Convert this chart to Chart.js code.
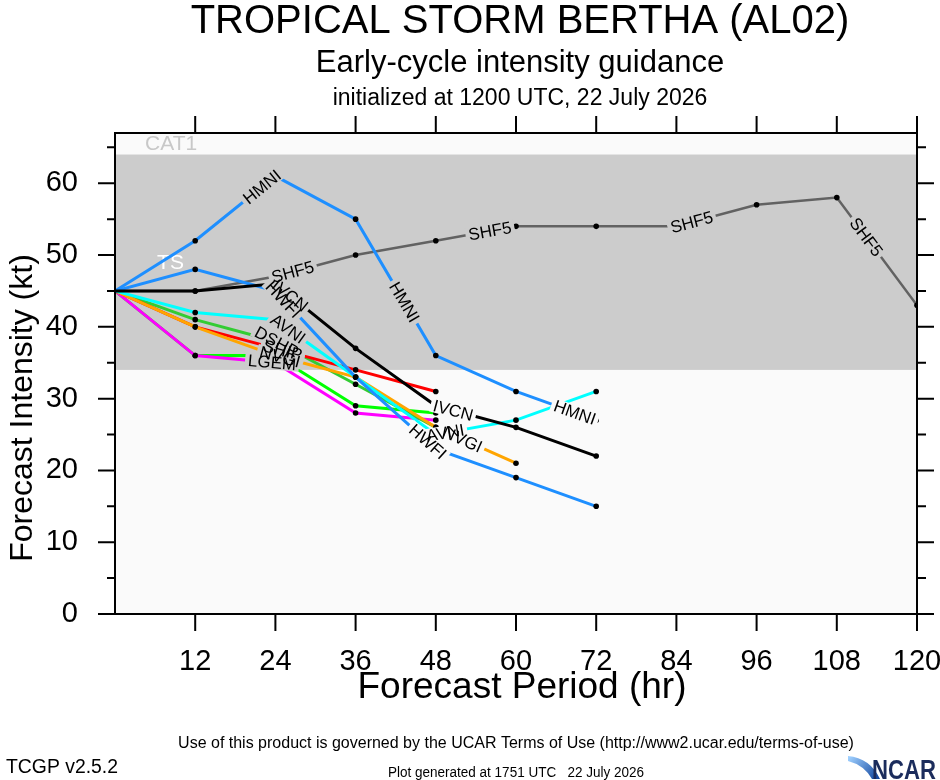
<!DOCTYPE html>
<html>
<head>
<meta charset="utf-8">
<title>Tropical Storm Bertha (AL02) early-cycle intensity guidance</title>
<script src="https://cdn.jsdelivr.net/npm/chart.js@4.4.1/dist/chart.umd.min.js"></script>
<style>
  html, body { margin: 0; padding: 0; background: #fff; }
  #wrap { width: 940px; height: 780px; position: relative; }
</style>
</head>
<body>
<div id="wrap"><canvas id="chart" width="940" height="780"></canvas></div>
<script>
// forecast hours and intensities (kt)
const hours = [0, 12, 24, 36, 48, 60, 72, 84, 96, 108, 120];
const shf5 = [45, 45, 47, 50, 52, 54, 54, 54, 57, 58, 43];
const hmni = [45, 52, 61, 55, 36, 31, 27];
const hwfi = [45, 48, 45, 33, 23, 19, 15];
const ivcn = [45, 45, 46, 37, 29, 26, 22];
const avni = [45, 42, 41, 33, 25, 27, 31];
const nvgi = [45, 40, 36, 33, 26, 21];
const ship = [45, 40, 37, 34, 31];
const dshp = [45, 41, 38, 32, 26];
const ctci = [45, 36, 36, 29, 28];
const lgem = [45, 36, 35, 28, 27];

const xTicks = [12, 24, 36, 48, 60, 72, 84, 96, 108, 120];
const yTicks = [0, 10, 20, 30, 40, 50, 60];
const yMinor = [5, 15, 25, 35, 45, 55, 65];
const tsBand = [34, 64];

const FONT = "'Liberation Sans', Arial, Helvetica, sans-serif";
Chart.defaults.font.family = FONT;
Chart.defaults.color = '#000';

function series(name, values, color, width, labelAt) {
  return {
    label: name,
    data: values.map((v, i) => ({ x: hours[i], y: v })),
    borderColor: color,
    backgroundColor: color,
    borderWidth: width,
    pointRadius: ctx => ctx.dataIndex === 0 ? 0 : 2.8,
    pointBackgroundColor: '#000',
    pointBorderWidth: 0,
    pointHoverRadius: 0,
    tension: 0,
    labelAt: labelAt
  };
}

// earlier entries are drawn on top
const datasets = [
  series('IVCN', ivcn, '#000000', 3, [26.2, 50.6]),
  series('HWFI', hwfi, '#1e8fff', 3, [25.2, 46.8]),
  series('AVNI', avni, '#00ffff', 3, [25.9, 49.4]),
  series('NVGI', nvgi, '#ffa500', 3, [24.7, 52]),
  series('SHIP', ship, '#ff0000', 3, [25.1]),
  series('DSHP', dshp, '#33cc33', 3, [24.2]),
  series('LGEM', lgem, '#ff00ff', 3, [23.5]),
  series('CTCI', ctci, '#00ff00', 3, []),
  series('HMNI', hmni, '#1e8fff', 3, [22, 43.3, 68.8]),
  series('SHF5', shf5, '#626262', 2.5, [26.6, 56.1, 86.3, 112.4])
];

function bandColor(v) {
  return (v >= tsBand[0] && v <= tsBand[1]) ? '#cccccc' : '#fafafa';
}

const backdrop = {
  id: 'backdrop',
  beforeDatasetsDraw(chart) {
    const { ctx, chartArea: a, scales: { x, y } } = chart;
    ctx.save();
    ctx.fillStyle = '#fafafa';
    ctx.fillRect(a.left, a.top, a.right - a.left, a.bottom - a.top);
    const t = y.getPixelForValue(tsBand[1]);
    const b = y.getPixelForValue(tsBand[0]);
    ctx.fillStyle = '#cccccc';
    ctx.fillRect(a.left, t, a.right - a.left, b - t);
    ctx.font = '21px ' + FONT;
    ctx.textBaseline = 'alphabetic';
    ctx.fillStyle = '#c8c8c8';
    ctx.fillText('CAT1', x.getPixelForValue(4.5), y.getPixelForValue(64.6));
    ctx.fillStyle = '#ffffff';
    ctx.fillText('TS', x.getPixelForValue(6.3), y.getPixelForValue(48.1));
    ctx.restore();
  }
};

const lineLabels = {
  id: 'lineLabels',
  afterDatasetsDraw(chart) {
    const { ctx, scales: { x, y } } = chart;
    const items = [];
    chart.data.datasets.forEach(ds => {
      const pts = ds.data;
      (ds.labelAt || []).forEach(h => {
        let i = 0;
        while (i < pts.length - 2 && pts[i + 1].x < h) i++;
        const p0 = pts[i], p1 = pts[i + 1];
        const f = (h - p0.x) / (p1.x - p0.x);
        const v = p0.y + f * (p1.y - p0.y);
        const x0 = x.getPixelForValue(p0.x), y0 = y.getPixelForValue(p0.y);
        const x1 = x.getPixelForValue(p1.x), y1 = y.getPixelForValue(p1.y);
        items.push({
          text: ds.label,
          px: x.getPixelForValue(h),
          py: y.getPixelForValue(v),
          angle: Math.atan2(y1 - y0, x1 - x0),
          bg: bandColor(v)
        });
      });
    });
    ctx.save();
    ctx.font = '17px ' + FONT;
    ctx.textAlign = 'center';
    ctx.textBaseline = 'middle';
    items.forEach(it => {
      const w = ctx.measureText(it.text).width;
      ctx.save();
      ctx.translate(it.px, it.py);
      ctx.rotate(it.angle);
      ctx.fillStyle = it.bg;
      ctx.fillRect(-w / 2 - 3, -7, w + 6, 14);
      ctx.restore();
    });
    items.forEach(it => {
      ctx.save();
      ctx.translate(it.px, it.py);
      ctx.rotate(it.angle);
      ctx.fillStyle = '#000';
      ctx.fillText(it.text, 0, 1);
      ctx.restore();
    });
    ctx.restore();
  }
};

const frame = {
  id: 'frame',
  afterDraw(chart) {
    const { ctx, chartArea: a, scales: { x, y } } = chart;
    ctx.save();
    ctx.strokeStyle = '#000';
    ctx.lineWidth = 2;
    ctx.strokeRect(a.left, a.top, a.right - a.left, a.bottom - a.top);
    ctx.beginPath();
    xTicks.forEach(h => {
      const px = x.getPixelForValue(h);
      ctx.moveTo(px, a.bottom); ctx.lineTo(px, a.bottom + 17);
      ctx.moveTo(px, a.top); ctx.lineTo(px, a.top - 17);
    });
    yTicks.forEach(v => {
      const py = y.getPixelForValue(v);
      ctx.moveTo(a.left, py); ctx.lineTo(a.left - 17, py);
      ctx.moveTo(a.right, py); ctx.lineTo(a.right + 17, py);
    });
    yMinor.forEach(v => {
      const py = y.getPixelForValue(v);
      ctx.moveTo(a.left, py); ctx.lineTo(a.left - 8, py);
      ctx.moveTo(a.right, py); ctx.lineTo(a.right + 9, py);
    });
    ctx.stroke();

    // titles
    const cx = (a.left + a.right) / 2 + 4;
    ctx.fillStyle = '#000';
    ctx.textAlign = 'center';
    ctx.textBaseline = 'alphabetic';
    ctx.font = '40px ' + FONT;
    ctx.fillText('TROPICAL STORM BERTHA (AL02)', cx, 33);
    ctx.font = '31px ' + FONT;
    ctx.fillText('Early-cycle intensity guidance', cx, 72);
    ctx.font = '23px ' + FONT;
    ctx.fillText('initialized at 1200 UTC, 22 July 2026', cx, 105);

    // axis titles
    ctx.font = '37px ' + FONT;
    ctx.fillText('Forecast Period (hr)', cx + 2, 698);
    ctx.save();
    ctx.font = '32px ' + FONT;
    ctx.translate(32, 408);
    ctx.rotate(-Math.PI / 2);
    ctx.fillText('Forecast Intensity (kt)', 0, 0);
    ctx.restore();

    // footer
    ctx.font = '16px ' + FONT;
    ctx.fillText('Use of this product is governed by the UCAR Terms of Use (http://www2.ucar.edu/terms-of-use)', 516, 748, 682);
    ctx.font = '14px ' + FONT;
    ctx.fillText('Plot generated at 1751 UTC   22 July 2026', 516, 777, 256);
    ctx.textAlign = 'left';
    ctx.font = '20px ' + FONT;
    ctx.fillText('TCGP v2.5.2', 6, 773, 112);

    // NCAR mark
    const g = ctx.createLinearGradient(850, 756, 880, 779);
    g.addColorStop(0, '#9fd0ff');
    g.addColorStop(1, '#0b3f9a');
    ctx.fillStyle = g;
    ctx.beginPath();
    ctx.moveTo(848, 756);
    ctx.quadraticCurveTo(870, 758, 880, 779);
    ctx.lineTo(872, 779);
    ctx.quadraticCurveTo(864, 765, 848, 761);
    ctx.closePath();
    ctx.fill();
    ctx.fillStyle = '#1b2c5c';
    ctx.font = 'bold 27px ' + FONT;
    ctx.fillText('NCAR', 872, 779, 64);
    ctx.restore();
  }
};

new Chart(document.getElementById('chart'), {
  type: 'line',
  data: { datasets },
  options: {
    responsive: false,
    animation: false,
    devicePixelRatio: 1,
    layout: { padding: { top: 133, right: 23, left: 0, bottom: 0 } },
    plugins: { legend: { display: false }, tooltip: { enabled: false }, title: { display: false } },
    elements: { line: { fill: false } },
    scales: {
      x: {
        type: 'linear',
        min: 0,
        max: 120,
        grid: { display: false },
        border: { display: false },
        afterBuildTicks: s => { s.ticks = xTicks.map(v => ({ value: v })); },
        afterFit: s => { s.height = 166; s.paddingLeft = 0; s.paddingRight = 0; },
        ticks: { font: { size: 29 }, padding: 23, maxRotation: 0, autoSkip: false }
      },
      y: {
        type: 'linear',
        min: 0,
        max: 67,
        grid: { display: false },
        border: { display: false },
        afterBuildTicks: s => { s.ticks = yTicks.map(v => ({ value: v })); },
        afterFit: s => { s.width = 115; },
        ticks: { font: { size: 29 }, padding: 29 }
      }
    }
  },
  plugins: [backdrop, lineLabels, frame]
});
</script>
</body>
</html>
